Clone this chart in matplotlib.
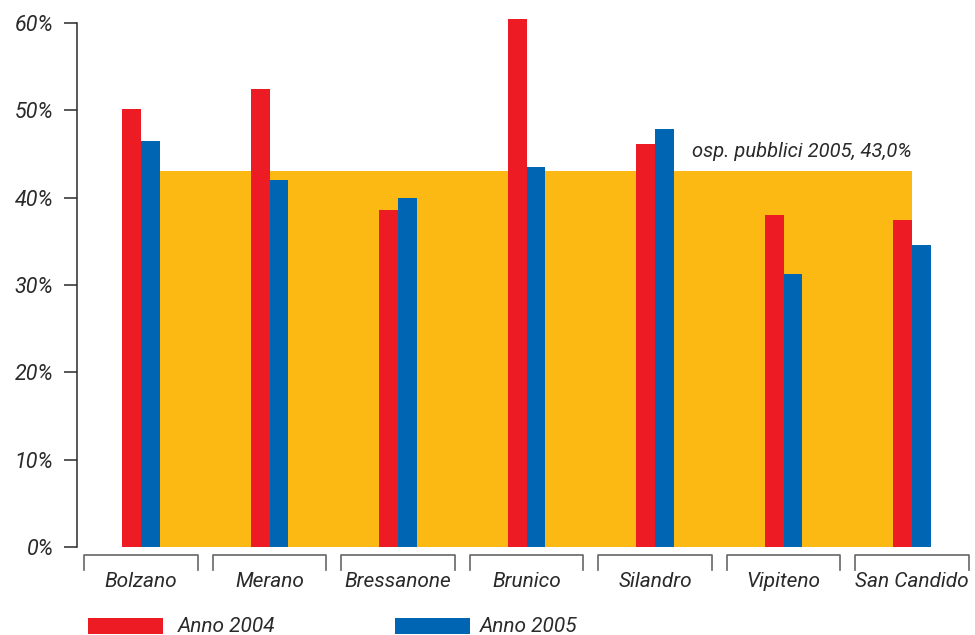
import matplotlib
matplotlib.use("Agg")
import matplotlib.pyplot as plt
from matplotlib.patches import Rectangle

# values (percent)
towns = ["Bolzano", "Merano", "Bressanone", "Brunico", "Silandro", "Vipiteno", "San Candido"]
anno_2004 = [50.2, 52.5, 38.6, 60.5, 46.2, 38.0, 37.5]
anno_2005 = [46.5, 42.0, 40.0, 43.5, 47.9, 31.3, 34.6]
osp_pubblici_2005 = 43.0
y_ticks = [0, 10, 20, 30, 40, 50, 60]

RED = "#ED1C24"
BLUE = "#0066B3"
ORANGE = "#FCB813"
TXT = "#2a2a2a"

plt.rcParams['font.family'] = ['Roboto', 'DejaVu Sans']
plt.rcParams['font.style'] = 'italic'
FS = 15

fig = plt.figure(figsize=(9.75, 6.35), dpi=100)
ax = fig.add_axes([77 / 975, 1 - 547 / 635, 1 - 77 / 975, (547 - 23) / 635])

w = 0.145
x = list(range(len(towns)))

# public hospitals average as background band
ax.fill_between([x[0] + w, x[-1]], 0, osp_pubblici_2005, color=ORANGE, lw=0, zorder=1)
label = "osp. pubblici 2005, " + f"{osp_pubblici_2005:.1f}".replace(".", ",") + "%"
ax.text(x[-1], osp_pubblici_2005 + 1.2, label, ha='right', va='bottom', fontsize=14.5, color=TXT)

ax.bar([i - w / 2 for i in x], anno_2004, width=w, color=RED, zorder=2, clip_on=False)
ax.bar([i + w / 2 for i in x], anno_2005, width=w, color=BLUE, zorder=2, clip_on=False)

ax.set_xlim((77 - 141) / 128.5, (975 - 141) / 128.5)
ax.set_ylim(0, 60)

ax.set_yticks(y_ticks)
ax.set_yticklabels([f"{t}%" for t in y_ticks], fontsize=15.5, color=TXT)
ax.tick_params(axis='y', length=9.4, width=1.1, color=TXT, pad=7.5, direction='out')
ax.set_xticks([])

for s in ['top', 'right', 'bottom']:
    ax.spines[s].set_visible(False)
ax.spines['left'].set_color(TXT)
ax.spines['left'].set_linewidth(1.1)

# bracket style category labels
for i, name in enumerate(towns):
    ax.plot([i - 0.44, i - 0.44, i + 0.44, i + 0.44], [-2.6, -0.9, -0.9, -2.6],
            color="#666666", lw=1.2, clip_on=False)
    ax.text(i, -3.9, name, ha='center', va='center', fontsize=FS, color=TXT)

# legend
fig.add_artist(Rectangle((88 / 975, 1 - 634 / 635), 75 / 975, 16 / 635,
                         transform=fig.transFigure, color=RED, lw=0))
fig.text(178 / 975, 1 - 626 / 635, "Anno 2004", ha='left', va='center', fontsize=FS, color=TXT)
fig.add_artist(Rectangle((395 / 975, 1 - 634 / 635), 75 / 975, 16 / 635,
                         transform=fig.transFigure, color=BLUE, lw=0))
fig.text(480 / 975, 1 - 626 / 635, "Anno 2005", ha='left', va='center', fontsize=FS, color=TXT)

fig.savefig("out.png", dpi=100)
